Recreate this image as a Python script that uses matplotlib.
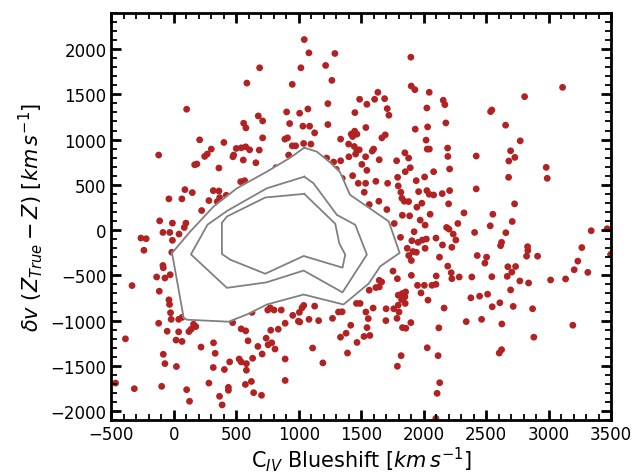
import matplotlib
matplotlib.use("Agg")
import matplotlib.pyplot as plt
from matplotlib.ticker import MultipleLocator

# C IV blueshift [km/s] and velocity offset [km/s] of quasars outside the outer contour
civ_blueshift = [
    687, 585, 103, 676, 711, 559, 577, 711, 207, 401, -121, 300, 268, 247, 500, 540, 575, 607,
    479, 473, 556, 684, 657, 185, 167, 361, 535, 567, 817, 89, 148, -39, 65, 316, 361, 281,
    367, 420, 348, 223,
    1044, 1081, 1289, 1017, 1215, 948, 1265, 1897, 1900, 1929, 2044, 1633, 1487, 1545, 1607,
    1687, 1708, 1721, 1233, 1449, 903, 1007, 1073, 927, 1033, 1087, 1127, 1233, 1537, 1420,
    1447, 1465, 1431, 1335, 1665, 1692, 1932, 2031, 2156, 2169, 2025, 2177, 2019, 2028, 2045,
    2191, 2193, 2207, 889, 910, 948, 975, 1039, 1097, 919, 1399, 1444, 1465, 1484, 1401, 1455,
    1535, 1588, 1599, 1644, 1223, 1279, 1335, 1300, 1505, 1545, 1783, 1849, 1879, 1892, 1852,
    2079, 2007, 1791, 1940, 1796, 1959, 2025, 2044, 2079, 2148, 2207, 2199, 1431, 1348, 1476,
    1535, 1617, 1711, 1524, 1817, 1825, 1844, 1879, 1641, 1985, 1945, 1564, 1705,
    3111, 2807, 2545, 2535, 2655, 2772, 2695, 2729, 2681, 2420, 2980, 2988, 2679, 2420, 2322,
    2553, 2727,
    -113, -11, 97, 84, -87, -32, 42, -263, -221, -11, -239, -16, -87, -84, -137, -71, -29,
    -334, -116, -39, -34, -26, -21, 39, 66, -121, -53, 39, 158, 176, 139, 121, -387, 18, 66,
    218, 318, 331, -84, -71, 21, 316, 405, 447, 523, 539, 581, 581, 631, 673, 707, 739, 755,
    784, 810, 594, 539, 576, 776, 836, 752, 802, 771, 626, 471, -466, -316, -97, 281, 103, 126,
    366, 387, 437, 437, 573, 621, 639, 702,
    1829, 1887, 1972, 2011, 2051, 1764, 1923, 1814, 1905, 1955, 1989, 2021, 2098, 2183, 2202,
    1868, 1914, 1941, 2011, 2150, 1880, 1901, 2126, 2192, 1754, 1789, 1901, 2100, 1644, 1663,
    1617, 1644, 1564, 1950, 2005, 2066, 2098, 1978, 1796, 1828, 1855, 1823, 1849, 2034, 1462,
    1491, 1699, 1760, 1796, 1852, 1802, 1595, 1537, 2163, 1556, 1786, 1697, 1897, 1830, 1857,
    2121, 1546, 1416, 1379, 1334, 1522, 1569, 1466, 1347, 1318, 1270, 1159, 1082, 1008, 997,
    1026, 1040, 1005, 952, 1127, 891, 860, 1111, 891, 1193, 1390, 1819, 1789, 2028, 2115, 891,
    2128, 2107, 2097,
    2708, 2532, 2273, 2407, 2657, 2236, 2257, 2623, 2615, 3340, 3468, 3495, 2831, 2833, 2823,
    2911, 3265, 3233, 3204, 3313, 2428, 2503, 2489, 2673, 2735, 2705, 2668, 2220, 2225, 2225,
    2284, 2385, 2545, 2769, 2839, 3015, 3135, 2695, 2511, 2447, 2377, 2609, 2548, 2716, 2871,
    2340, 2463, 2625, 3193, 2881, 2604, 2623,
]
delta_v = [
    1793, 1624, 1335, 1261, 1206, 1181, 1129, 1019, 997, 968, 829, 895, 840, 814, 902, 909, 920,
    887, 829, 810, 774, 884, 744, 730, 722, 686, 535, 546, 689, 447, 414, 345, 345, 436, 432,
    326, 359, 385, 315, 216,
    2105, 1958, 1951, 1793, 1819, 1610, 1654, 1910, 1591, 1551, 1522, 1522, 1445, 1390, 1445,
    1452, 1342, 1269, 1397, 1298, 1305, 1291, 1338, 1177, 1148, 1148, 1074, 1166, 1133, 1060,
    1093, 1060, 1034, 1005, 1019, 1052, 1115, 1140, 1434, 1386, 1349, 1184, 994, 895, 895,
    906, 814, 675, 1005, 1019, 931, 931, 957, 950, 829, 950, 924, 884, 887, 810, 840,
    810, 873, 895, 777, 796, 752, 766, 671, 726, 660, 766, 854, 796, 689, 645,
    645, 587, 583, 546, 488, 425, 436, 396, 388, 403, 436, 290, 601, 572, 517,
    517, 539, 517, 418, 418, 352, 319, 315, 319, 297, 253, 282, 227,
    1577, 1474, 1327, 1309, 1159, 986, 876, 803, 763, 818, 693, 572, 583, 455, 190,
    175, 290,
    102, 77, 77, 29, -26, -26, -44, -88, -95, -113, -223, -245, -391, -416, -518, -529, -493,
    -613, -675, -770, -821, -913, -986, -986, -964, -1029, -1117, -1124, -1040, -1066, -1095,
    -1121, -1201, -1215, -1230, -1292, -1245, -1361, -1372, -1475, -1507, -1518, -1540, -1456,
    -1424, -1456, -1475, -1548, -1416, -1285, -1369, -1194, -1267, -1245, -1314, -1223, -1091,
    -1113, -1106, -1095, -883, -883, -858, -909, -1022, -1690, -1752, -1726, -1690, -1763,
    -1891, -1836, -1931, -1737, -1770, -1705, -1672, -1796, -1825,
    164, 157, 110, 55, 175, 73, -18, -80, -117, -135, -110, -99, -88, 29, 11,
    -201, -237, -245, -201, -164, -281, -336, -299, -398, -453, -537, -500, -507, -555, -573,
    -635, -628, -664, -610, -610, -610, -599, -694, -719, -701, -683, -767, -737, -774, -810,
    -810, -869, -869, -829, -810, -905, -861, -905, -861, -978, -975, -1000, -1022, -1077, -1084,
    -1080, -1077, -1051, -1139, -1183, -1175, -1164, -1241, -902, -905, -975, -1000, -986, -1015,
    -1007, -858, -832, -909, -942, -840, -1029, -883, -1303, -1424, -1467, -1358, -1387, -1504,
    -1300, -1387, -1661, -1686, -1803, -2080,
    95, 47, 73, -26, -29, -44, -110, -135, -172, -7, 15, -270, -183, -226, -288,
    -288, -193, -343, -438, -467, -281, -299, -365, -405, -402, -464, -511, -471, -537, -190,
    -518, -518, -515, -562, -584, -551, -540, -661, -708, -730, -748, -803, -847, -843, -869,
    -1011, -986, -1037, -1051, -1183, -1358, -1321,
]

# density contours (outer, middle, inner)
outer_x = [1044, 1145, 1252, 1330, 1410, 1720, 1807, 1652, 1560, 1358, 1039, 745, 585, 438,
           105, 79, -14, 132, 319, 505, 745, 932]
outer_y = [910, 866, 745, 640, 390, 96, -253, -400, -590, -822, -712, -822, -932, -1012,
           -990, -968, -253, -15, 261, 462, 646, 800]
middle_x = [1044, 1118, 1305, 1452, 1545, 1350, 1039, 740, 425, 137, 270, 430, 745]
middle_y = [590, 517, 168, 58, -271, -688, -447, -578, -638, -268, 60, 215, 462]
inner_x = [1044, 1292, 1325, 1372, 1350, 1039, 732, 452, 385, 385, 425, 732]
inner_y = [400, 70, -150, -271, -415, -286, -482, -327, -264, 80, 150, 360]

fig, ax = plt.subplots(figsize=(6.36, 4.77), dpi=100)

ax.scatter(civ_blueshift, delta_v, s=24, color='firebrick', edgecolors='none', zorder=1)

# outer contour hides the dense core
ax.fill(outer_x, outer_y, color='white', zorder=2)
for cx, cy in [(outer_x, outer_y), (middle_x, middle_y), (inner_x, inner_y)]:
    ax.plot(cx + cx[:1], cy + cy[:1], color='grey', lw=1.3, zorder=3)

ax.set_xlim(-500, 3500)
ax.set_ylim(-2100, 2400)
ax.xaxis.set_major_locator(MultipleLocator(500))
ax.xaxis.set_minor_locator(MultipleLocator(100))
ax.yaxis.set_major_locator(MultipleLocator(500))
ax.yaxis.set_minor_locator(MultipleLocator(100))
ax.tick_params(which='both', direction='in', top=True, right=True, labelsize=12)
ax.tick_params(which='major', length=7, width=2)
ax.tick_params(which='minor', length=4, width=1.3)
for sp in ax.spines.values():
    sp.set_linewidth(2)

ax.set_xlabel(r'C$_{IV}$ Blueshift [$km\,s^{-1}$]', fontsize=15, labelpad=1)
ax.set_ylabel(r'$\delta v\ (Z_{True} - Z)\ [km\,s^{-1}]$', fontsize=15)

fig.subplots_adjust(left=0.175, right=0.961, top=0.971, bottom=0.117)
fig.savefig('out.png', dpi=100)
